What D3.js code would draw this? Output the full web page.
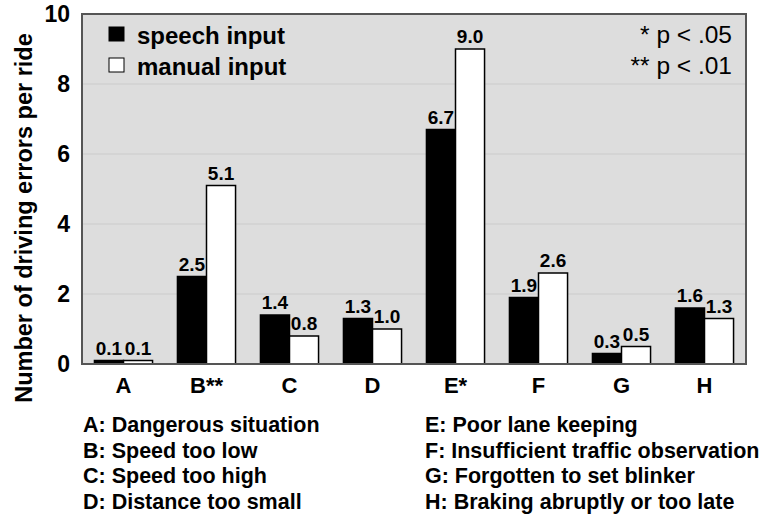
<!DOCTYPE html>
<html>
<head>
<meta charset="utf-8">
<script src="https://cdn.jsdelivr.net/npm/d3@7"></script>
<style>
  body { margin: 0; background: #fff; }
  text { font-family: "Liberation Sans", Arial, sans-serif; }
</style>
</head>
<body>
<script>
// data
var categories = ["A", "B**", "C", "D", "E*", "F", "G", "H"];
var speech = [0.1, 2.5, 1.4, 1.3, 6.7, 1.9, 0.3, 1.6];
var manual = [0.1, 5.1, 0.8, 1.0, 9.0, 2.6, 0.5, 1.3];
var seriesNames = ["speech input", "manual input"];
var yTicks = [0, 2, 4, 6, 8, 10];
var notes = ["* p < .05", "** p < .01"];
var descLeft = ["A: Dangerous situation", "B: Speed too low", "C: Speed too high", "D: Distance too small"];
var descRight = ["E: Poor lane keeping", "F: Insufficient traffic observation", "G: Forgotten to set blinker", "H: Braking abruptly or too late"];

var w = 763, h = 515;
var margin = {left: 82, right: 17, top: 14, bottom: 151};
var pw = w - margin.left - margin.right;
var ph = h - margin.top - margin.bottom;

var svg = d3.select("body").append("svg")
  .attr("width", w)
  .attr("height", h);

var g = svg.append("g")
  .attr("transform", "translate(" + margin.left + "," + margin.top + ")");

var x = d3.scaleBand().domain(categories).range([0, pw]).paddingInner(0.3).paddingOuter(0.15);
var x1 = d3.scaleBand().domain([0, 1]).range([0, x.bandwidth()]);
var y = d3.scaleLinear().domain([0, 10]).range([ph, 0]);

// plot background
g.append("rect")
  .attr("width", pw).attr("height", ph)
  .attr("fill", "#dddddd");

// grid lines
g.selectAll(".grid").data(yTicks.slice(1, -1)).enter()
  .append("line")
  .attr("x1", 0).attr("x2", pw)
  .attr("y1", function(d) { return y(d); })
  .attr("y2", function(d) { return y(d); })
  .attr("stroke", "#d0d0d0").attr("stroke-width", 1.5);

// bars
var rows = categories.map(function(c, i) { return {cat: c, vals: [speech[i], manual[i]]}; });
var grp = g.selectAll(".grp").data(rows).enter()
  .append("g")
  .attr("transform", function(d) { return "translate(" + x(d.cat) + ",0)"; });

grp.selectAll("rect").data(function(d) { return d.vals; }).enter()
  .append("rect")
  .attr("x", function(d, i) { return x1(i); })
  .attr("y", function(d) { return y(d); })
  .attr("width", x1.bandwidth())
  .attr("height", function(d) { return y(0) - y(d); })
  .attr("fill", function(d, i) { return i == 0 ? "#000" : "#fff"; })
  .attr("stroke", "#000").attr("stroke-width", 1.5);

grp.selectAll(".val").data(function(d) { return d.vals; }).enter()
  .append("text")
  .attr("x", function(d, i) { return x1(i) + x1.bandwidth() / 2; })
  .attr("y", function(d) { return y(d) - 6; })
  .attr("text-anchor", "middle")
  .attr("font-size", "19px").attr("font-weight", "bold")
  .text(function(d) { return d.toFixed(1); });

// frame
g.append("rect")
  .attr("width", pw).attr("height", ph)
  .attr("fill", "none").attr("stroke", "#555").attr("stroke-width", 2);

// y axis
var yAxis = d3.axisLeft(y).tickValues(yTicks).tickSize(0).tickPadding(12);
var yGuide = g.append("g").call(yAxis);
yGuide.select(".domain").remove();
yGuide.selectAll("text")
  .attr("font-family", "Liberation Sans, Arial, sans-serif")
  .attr("font-size", "23px").attr("font-weight", "bold").attr("fill", "#000");

// x axis
var xAxis = d3.axisBottom(x).tickSize(0).tickPadding(13);
var xGuide = g.append("g").attr("transform", "translate(0," + ph + ")").call(xAxis);
xGuide.select(".domain").remove();
xGuide.selectAll("text")
  .attr("font-family", "Liberation Sans, Arial, sans-serif")
  .attr("font-size", "22px").attr("font-weight", "bold").attr("fill", "#000");

// y axis title
svg.append("text")
  .attr("transform", "translate(32,218) rotate(-90)")
  .attr("text-anchor", "middle")
  .attr("font-size", "23.5px").attr("font-weight", "bold")
  .text("Number of driving errors per ride");

// legend
var leg = g.selectAll(".leg").data(seriesNames).enter()
  .append("g")
  .attr("transform", function(d, i) { return "translate(27," + (13 + i * 31) + ")"; });
leg.append("rect")
  .attr("width", 15).attr("height", 14)
  .attr("fill", function(d, i) { return i == 0 ? "#000" : "#fff"; })
  .attr("stroke", "#000").attr("stroke-width", 1);
leg.append("text")
  .attr("x", 28).attr("y", 17)
  .attr("font-size", "24px").attr("font-weight", "bold")
  .text(function(d) { return d; });

// significance notes
g.selectAll(".note").data(notes).enter()
  .append("text")
  .attr("x", pw - 14)
  .attr("y", function(d, i) { return 29 + i * 31; })
  .attr("text-anchor", "end")
  .attr("font-size", "24.5px")
  .text(function(d) { return d; });

// category descriptions
var desc = svg.append("g");
desc.selectAll(".dl").data(descLeft).enter()
  .append("text")
  .attr("x", 83)
  .attr("y", function(d, i) { return 432 + i * 25.5; })
  .attr("font-size", "21.5px").attr("font-weight", "bold")
  .text(function(d) { return d; });
desc.selectAll(".dr").data(descRight).enter()
  .append("text")
  .attr("x", 425)
  .attr("y", function(d, i) { return 432 + i * 25.5; })
  .attr("font-size", "21.5px").attr("font-weight", "bold")
  .text(function(d) { return d; });
</script>
</body>
</html>
